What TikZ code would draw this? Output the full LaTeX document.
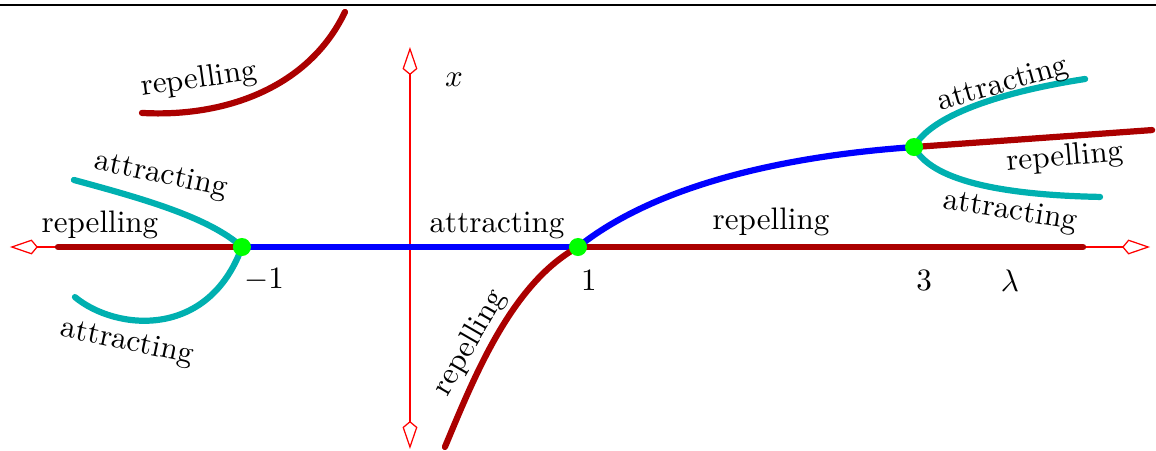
\documentclass[tikz,border=0pt]{standalone}
\usepackage{amsmath,amssymb}
\usepackage{tikz}
\usetikzlibrary{arrows.meta}
\definecolor{darkred}{rgb}{0.67,0,0}
\definecolor{tealc}{rgb}{0,0.69,0.69}

\begin{document}
\begin{tikzpicture}[
  x=1.9cm, y=1.9cm,
  >={Kite[open, length=9pt, width=4.8pt, inset=2pt]},
  axis/.style={<->, red, line width=0.4pt},
  rep/.style={darkred, line width=2pt, line cap=round},
  att/.style={tealc, line width=2pt, line cap=round},
  stab/.style={blue, line width=2pt, line cap=round},
  bif/.style={circle, fill=green, inner sep=0pt, minimum size=5.8pt},
  lbl/.style={inner sep=1pt}
]
\useasboundingbox (-2.44,-1.214) rectangle (4.44,1.47);

\draw[line width=0.9pt] (-2.44,1.44) -- (4.44,1.44);

% axes
\draw[axis] (-2.381,0) -- (4.405,0);
\draw[axis] (0,-1.202) -- (0,1.19);

% bifurcation points
\coordinate (b1) at (-1,0);
\coordinate (b2) at (1,0);
\coordinate (b3) at (3,0.595);

% branches
\draw[rep] (-2.095,0) -- (b1);
\draw[stab] (b1) -- (b2);
\draw[rep] (b2) -- (4.006,0);
\draw[att] (-2,0.399) .. controls (-1.6,0.29) and (-1.2,0.18) .. (b1);
\draw[att] (-1.994,-0.298) .. controls (-1.75,-0.5) and (-1.2,-0.55) .. (b1);
\draw[rep] (-1.595,0.798) .. controls (-1.1,0.77) and (-0.6,0.95) .. (-0.387,1.399);
\draw[rep] (0.208,-1.19) .. controls (0.38,-0.78) and (0.6,-0.22) .. (b2);
\draw[stab] (b2) .. controls (1.45,0.36) and (2.2,0.54) .. (b3);
\draw[att] (b3) .. controls (3.1,0.78) and (3.5,0.92) .. (4.018,1.0);
\draw[att] (b3) .. controls (3.1,0.4) and (3.5,0.31) .. (4.107,0.298);
\draw[rep] (b3) -- (4.417,0.696);

\foreach \p in {b1,b2,b3}
  \node[bif] at (\p) {};

% labels
\node[lbl, rotate=8]   (l-rep-ul)  at (-1.256,0.994) {repelling};
\node[lbl, rotate=-12] (l-att-ul)  at (-1.482,0.423) {attracting};
\node[lbl]             (l-rep-l)   at (-1.845,0.131) {repelling};
\node[lbl, rotate=-12] (l-att-ll)  at (-1.685,-0.571) {attracting};
\node[lbl]             (l-att-m)   at (0.518,0.131) {attracting};
\node[lbl]             (l-rep-m)   at (2.149,0.149) {repelling};
\node[lbl, rotate=60]  (l-rep-lo)  at (0.357,-0.571) {repelling};
\node[lbl, rotate=16]  (l-att-ur)  at (3.53,0.964) {attracting};
\node[lbl, rotate=5]   (l-rep-r)   at (3.899,0.53) {repelling};
\node[lbl, rotate=-9]  (l-att-lr)  at (3.571,0.208) {attracting};

\node[lbl] (t-m1) at (-0.869,-0.196) {$-1$};
\node[lbl] (t-1)  at (1.065,-0.202) {$1$};
\node[lbl] (t-3)  at (3.06,-0.202) {$3$};
\node[lbl] (t-la) at (3.571,-0.202) {$\lambda$};
\node[lbl] (t-x)  at (0.262,0.994) {$x$};

\end{tikzpicture}
\end{document}
